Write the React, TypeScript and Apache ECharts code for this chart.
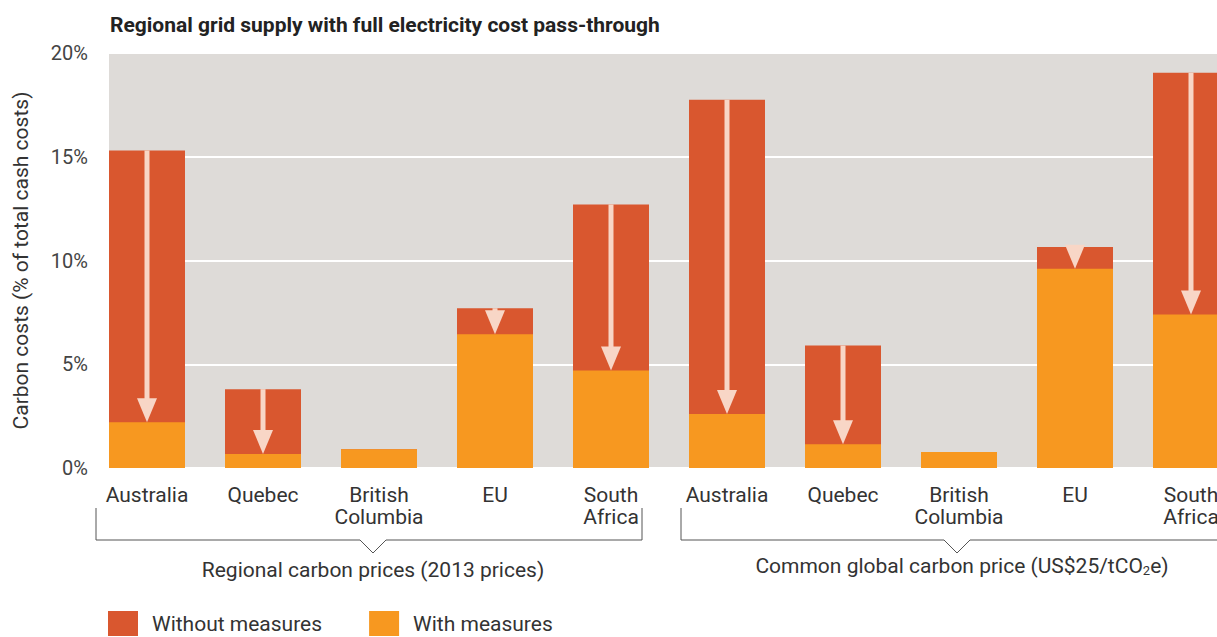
import React, { useEffect, useRef } from "react";
import * as echarts from "echarts";

const categories = [
  "Australia", "Quebec", "British\nColumbia", "EU", "South\nAfrica",
  "Australia", "Quebec", "British\nColumbia", "EU", "South\nAfrica",
];
const withoutMeasures = [15.3, 3.8, 0.9, 7.7, 12.7, 17.75, 5.9, 0.77, 10.65, 19.05];
const withMeasures = [2.2, 0.68, 0.9, 6.45, 4.7, 2.6, 1.15, 0.77, 9.6, 7.4];
const yTicks = [0, 5, 10, 15, 20];

const RED = "#D9572F";
const ORANGE = "#F79820";
const BG = "#DEDBD8";
const ARROW = "#F8D6C6";
const FONT = "Roboto, 'Noto Sans', sans-serif";

export default function App() {
  const ref = useRef<HTMLDivElement>(null);
  useEffect(() => {
    document.body.style.margin = "0";
    const chart = echarts.init(ref.current!, undefined, { renderer: "svg" });
    const arrowData = withoutMeasures.map((v, i) => [i, v, withMeasures[i]]);
    chart.setOption({
      animation: false,
      textStyle: { fontFamily: FONT },
      title: {
        text: "Regional grid supply with full electricity cost pass-through",
        left: 110,
        top: 14,
        padding: 0,
        textStyle: { fontSize: 21, fontWeight: "bold", color: "#222", fontFamily: FONT },
      },
      graphic: {
        elements: [
          {
            type: "rect",
            z: -10,
            silent: true,
            shape: { x: 109, y: 53, width: 1108, height: 415 },
            style: { fill: BG },
          },
          {
            type: "polyline",
            silent: true,
            shape: {
              points: [[96, 508], [96, 540], [360, 540], [373, 553], [386, 540], [642, 540], [642, 508]],
            },
            style: { stroke: "#555", lineWidth: 1, fill: "none" },
          },
          {
            type: "polyline",
            silent: true,
            shape: {
              points: [[681, 508], [681, 540], [944, 540], [957, 553], [970, 540], [1240, 540]],
            },
            style: { stroke: "#555", lineWidth: 1, fill: "none" },
          },
          {
            type: "text",
            silent: true,
            x: 373,
            y: 570,
            style: {
              text: "Regional carbon prices (2013 prices)",
              align: "center",
              verticalAlign: "middle",
              fontSize: 21,
              fontFamily: FONT,
              fill: "#333",
            },
          },
          {
            type: "text",
            silent: true,
            x: 962,
            y: 566,
            style: {
              text: "{a|Common global carbon price (US$25/tCO}{s|2}{a|e)}",
              align: "center",
              verticalAlign: "middle",
              fontFamily: FONT,
              fill: "#333",
              rich: {
                a: { fontSize: 21, fontFamily: FONT, color: "#333" },
                s: { fontSize: 13, fontFamily: FONT, verticalAlign: "bottom", padding: [9, 0, 0, 0], color: "#333" },
              },
            },
          },
        ],
      },
      legend: {
        left: 108,
        top: 611,
        padding: 0,
        itemWidth: 30,
        itemHeight: 25,
        itemGap: 47,
        icon: "rect",
        data: ["Without measures", "With measures"],
        textStyle: { fontSize: 21, color: "#333", padding: [2, 0, 0, 9], fontFamily: FONT },
      },
      grid: { left: 89, top: 53, width: 1160, height: 415, containLabel: false },
      xAxis: {
        type: "category",
        data: categories,
        axisLine: { show: false },
        axisTick: { show: false },
        axisLabel: {
          interval: 0,
          margin: 16,
          fontSize: 21,
          lineHeight: 22,
          color: "#333",
          fontFamily: FONT,
        },
      },
      yAxis: {
        type: "value",
        min: 0,
        max: 20,
        interval: 5,
        name: "Carbon costs (% of total cash costs)",
        nameLocation: "middle",
        nameGap: 58,
        nameTextStyle: { fontSize: 21, color: "#333", fontFamily: FONT },
        axisLine: { show: false },
        axisTick: { show: false },
        splitLine: { lineStyle: { color: "#fff", width: 2 } },
        axisLabel: {
          margin: 1,
          fontSize: 20,
          color: "#444",
          fontFamily: FONT,
          formatter: (v: number) => (yTicks.includes(v) ? v + "%" : ""),
        },
      },
      series: [
        {
          name: "Without measures",
          type: "bar",
          data: withoutMeasures,
          barWidth: 76,
          itemStyle: { color: RED },
          z: 2,
        },
        {
          name: "With measures",
          type: "bar",
          data: withMeasures,
          barWidth: 76,
          barGap: "-100%",
          itemStyle: { color: ORANGE },
          z: 3,
        },
        {
          type: "custom",
          data: arrowData,
          z: 5,
          encode: { x: 0, y: 1 },
          renderItem: (params: any, api: any) => {
            const i = api.value(0);
            const top = api.value(1);
            const bot = api.value(2);
            if (top - bot <= 0.01) return { type: "group", children: [] };
            const p1 = api.coord([i, top]);
            const p2 = api.coord([i, bot]);
            const x = p1[0];
            const headH = 24;
            const headW = 10;
            const shaftEnd = Math.max(p1[1], p2[1] - headH);
            return {
              type: "group",
              children: [
                {
                  type: "rect",
                  shape: { x: x - 2.5, y: p1[1], width: 5, height: Math.max(0, shaftEnd - p1[1] + 1) },
                  style: { fill: ARROW },
                },
                {
                  type: "polygon",
                  shape: { points: [[x - headW, p2[1] - headH], [x + headW, p2[1] - headH], [x, p2[1]]] },
                  style: { fill: ARROW },
                },
              ],
            };
          },
        },
      ],
    });
    return () => chart.dispose();
  }, []);
  return (
    <div style={{ width: 1217, height: 637, overflow: "hidden", position: "relative" }}>
      <div ref={ref} style={{ width: 1270, height: 637 }} />
    </div>
  );
}
